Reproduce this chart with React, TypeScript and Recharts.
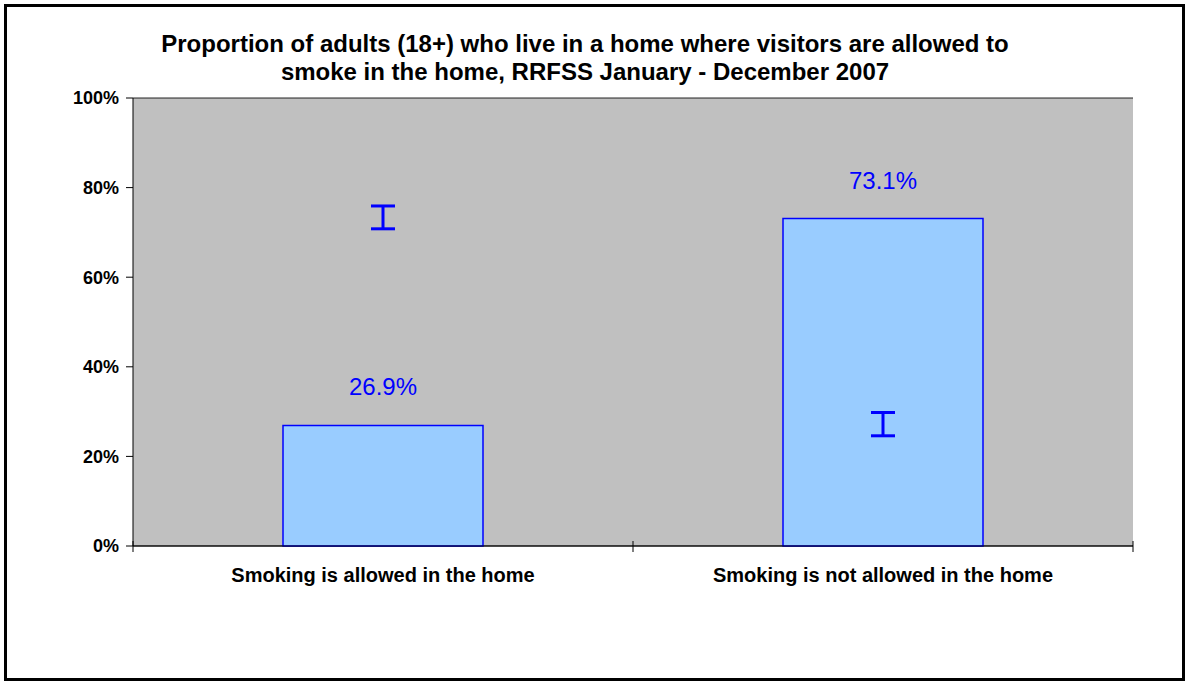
import React from "react";
import {
  ComposedChart,
  Bar,
  Line,
  XAxis,
  YAxis,
  CartesianGrid,
  ErrorBar,
  LabelList,
} from "recharts";

const categories = [
  "Smoking is allowed in the home",
  "Smoking is not allowed in the home",
];
const percentValues = [26.9, 73.1];
// error bars as drawn in the original (they sit over the other category)
const errorLow = [70.8, 24.6];
const errorHigh = [75.9, 29.8];
const yTicks = [0, 20, 40, 60, 80, 100];

const TITLE_LINES = [
  "Proportion of adults (18+) who live in a home where visitors are allowed to",
  "smoke in the home, RRFSS January - December 2007",
];

const FONT = "'Liberation Sans', Arial, sans-serif";

const data = categories.map((name, i) => {
  const mid = (errorLow[i] + errorHigh[i]) / 2;
  return {
    name,
    value: percentValues[i],
    errMid: mid,
    err: [mid - errorLow[i], errorHigh[i] - mid],
  };
});

function CategoryTick(props: any) {
  const { x, y, payload, index } = props;
  const off = payload?.offset ?? 250;
  return (
    <g>
      <line x1={x - off} x2={x - off} y1={y - 5} y2={y + 6} stroke="#000" />
      {index === categories.length - 1 && (
        <line x1={x + off} x2={x + off} y1={y - 5} y2={y + 6} stroke="#000" />
      )}
      <text
        x={x}
        y={y + 36}
        textAnchor="middle"
        fontSize={20}
        fontWeight="bold"
        fontFamily={FONT}
        fill="#000"
      >
        {payload.value}
      </text>
    </g>
  );
}

function ValueLabel(props: any) {
  const { x, y, width, value } = props;
  return (
    <text
      x={x + width / 2}
      y={y - 30}
      textAnchor="middle"
      fontSize={24}
      fontFamily={FONT}
      fill="#0000FF"
    >
      {value}%
    </text>
  );
}

export default function App() {
  return (
    <div style={{ position: "relative", width: 1185, height: 681, fontFamily: FONT }}>
      <style>{"body{margin:0;}"}</style>
      <div
        style={{
          position: "absolute",
          left: 4,
          top: 4,
          width: 1181,
          height: 677,
          border: "3px solid #000",
          boxSizing: "border-box",
          background: "#fff",
        }}
      />
      <div
        style={{
          position: "absolute",
          left: 0,
          top: 30,
          width: 1170,
          textAlign: "center",
          fontSize: 24,
          lineHeight: "28px",
          fontWeight: "bold",
          color: "#000",
        }}
      >
        {TITLE_LINES.map((t) => (
          <div key={t}>{t}</div>
        ))}
      </div>
      <div style={{ position: "absolute", left: 0, top: 0 }}>
        <ComposedChart
          width={1185}
          height={681}
          data={data}
          barCategoryGap="30%"
          margin={{ top: 98, right: 52, left: 73, bottom: 0 }}
        >
          <CartesianGrid
            vertical={false}
            fill="#C0C0C0"
            stroke="#000"
            strokeOpacity={0.85}
          />
          <XAxis
            dataKey="name"
            height={135}
            tickLine={false}
            tickSize={0}
            tickMargin={0}
            axisLine={{ stroke: "#000" }}
            tick={<CategoryTick />}
            interval={0}
          />
          <YAxis
            yAxisId="left"
            width={60}
            domain={[0, 100]}
            ticks={yTicks}
            tickFormatter={(v) => v + "%"}
            tickSize={7}
            tickMargin={7}
            axisLine={{ stroke: "#000" }}
            tickLine={{ stroke: "#000" }}
            tick={{ fontSize: 18, fontWeight: "bold", fill: "#000", fontFamily: FONT }}
          />
          <YAxis
            yAxisId="right"
            orientation="right"
            width={0}
            domain={[0, 100]}
            tick={false}
            tickLine={false}
            axisLine={{ stroke: "#000" }}
          />
          <Bar
            yAxisId="left"
            dataKey="value"
            fill="#99CCFF"
            stroke="#0000FF"
            strokeWidth={1.5}
            isAnimationActive={false}
          >
            <LabelList dataKey="value" content={<ValueLabel />} />
          </Bar>
          <Line
            yAxisId="left"
            dataKey="errMid"
            stroke="none"
            dot={false}
            activeDot={false}
            isAnimationActive={false}
          >
            <ErrorBar
              dataKey="err"
              width={12}
              stroke="#0000FF"
              strokeWidth={3}
              isAnimationActive={false}
            />
          </Line>
        </ComposedChart>
      </div>
    </div>
  );
}
